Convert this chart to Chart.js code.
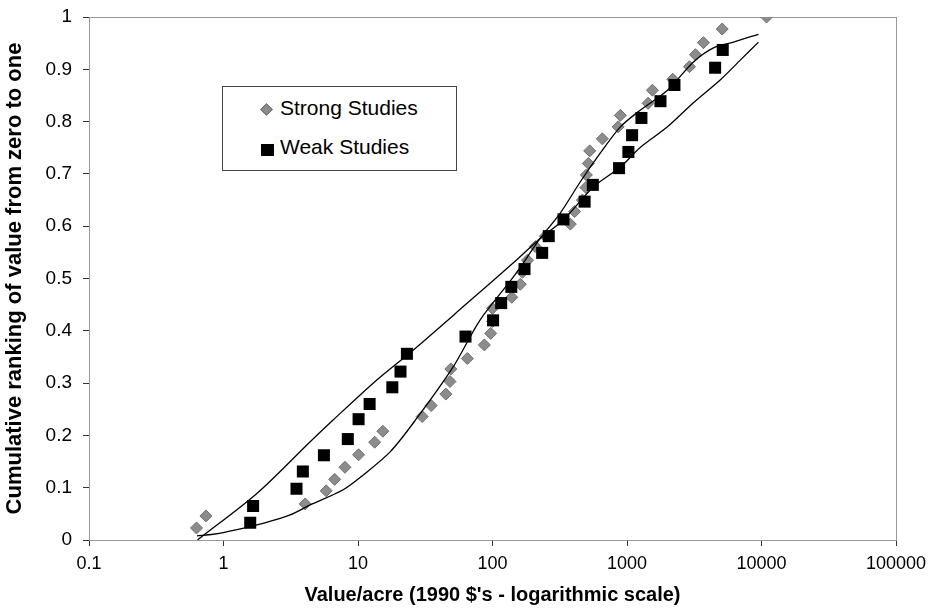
<!DOCTYPE html>
<html>
<head>
<meta charset="utf-8">
<script src="https://cdn.jsdelivr.net/npm/chart.js@4.4.1/dist/chart.umd.min.js"></script>
<style>
    html, body { margin: 0; padding: 0; background: #fff; }
    #wrap { position: relative; width: 930px; height: 609px; }
    #legend {
        position: absolute; left: 222px; top: 86px; width: 233px; height: 83px;
        border: 1px solid #444; background: #fff;
        font-family: "Liberation Sans", Arial, sans-serif; font-size: 21px; color: #000;
    }
    .row { position: absolute; left: 57px; white-space: nowrap; }
    .diamond { position: absolute; width: 7px; height: 7px; background: #8c8c8c; border: 1px solid #6e6e6e; transform: rotate(45deg); }
    .square { position: absolute; width: 13px; height: 12px; background: #000; }
</style>
</head>
<body>
<div id="wrap">
    <canvas id="chart" width="930" height="609"></canvas>
    <div id="legend">
        <span class="diamond" style="left:39px; top:18px;"></span>
        <span class="row" style="top:9px;">Strong Studies</span>
        <span class="square" style="left:38px; top:57px;"></span>
        <span class="row" style="top:48px;">Weak Studies</span>
    </div>
</div>
<script>
// Strong studies (grey diamonds)
const strongX = [0.63, 0.74, 4.05, 5.8, 6.7, 8.0, 10.1, 13.3, 15.3, 30, 35, 45, 48.3, 49, 65, 87, 97, 100, 100,
    139, 161, 167, 182, 208, 247, 379, 408, 466, 495, 499, 516, 528, 656, 859, 893, 1435, 1545, 2188, 2913,
    3228, 3700, 5100, 10900];
const strongY = [0.023, 0.046, 0.069, 0.094, 0.116, 0.139, 0.163, 0.187, 0.208, 0.236, 0.257, 0.279, 0.303,
    0.327, 0.347, 0.373, 0.395, 0.418, 0.443, 0.464, 0.489, 0.512, 0.535, 0.561, 0.581, 0.604, 0.628, 0.65,
    0.674, 0.698, 0.72, 0.744, 0.767, 0.79, 0.812, 0.835, 0.86, 0.881, 0.905, 0.928, 0.951, 0.977, 1.0];

// Weak studies (black squares)
const weakX = [1.58, 1.66, 3.49, 3.89, 5.58, 8.4, 10.1, 12.2, 18, 20.7, 23.1, 63, 101, 116, 138, 173, 234,
    262, 337, 484, 557, 873, 1024, 1091, 1280, 1774, 2253, 4520, 5150];
const weakY = [0.033, 0.065, 0.098, 0.131, 0.162, 0.193, 0.231, 0.26, 0.292, 0.322, 0.356, 0.389, 0.42, 0.453,
    0.484, 0.518, 0.549, 0.581, 0.613, 0.647, 0.679, 0.711, 0.742, 0.774, 0.807, 0.839, 0.87, 0.903, 0.937];

// Fitted curves (thin black lines)
const curveAX = [0.64, 1.77, 4.41, 6.5, 13.8, 25.7, 65, 143, 227, 336, 562, 893, 1259, 2000, 3119, 4955, 6980, 9500];
const curveAY = [0, 0.089, 0.188, 0.229, 0.306, 0.363, 0.453, 0.53, 0.577, 0.612, 0.675, 0.713, 0.751, 0.79,
    0.836, 0.88, 0.918, 0.952];
const curveBX = [0.635, 0.84, 1.26, 1.97, 3.13, 4.41, 7.76, 10.9, 17.4, 26.7, 51, 81, 143, 227, 319, 450, 634,
    893, 1259, 2000, 3119, 4395, 6194, 9500];
const curveBY = [0.008, 0.011, 0.02, 0.032, 0.048, 0.067, 0.096, 0.124, 0.169, 0.229, 0.331, 0.421, 0.503,
    0.577, 0.625, 0.685, 0.74, 0.79, 0.822, 0.86, 0.914, 0.941, 0.952, 0.967];

// Axis ticks
const xTicks = [0.1, 1, 10, 100, 1000, 10000, 100000];
const xTickLabels = ['0.1', '1', '10', '100', '1000', '10000', '100000'];
const yTickLabels = ['0', '0.1', '0.2', '0.3', '0.4', '0.5', '0.6', '0.7', '0.8', '0.9', '1'];

function toPoints(xs, ys) {
    return xs.map((x, i) => ({ x: x, y: ys[i] }));
}

// Labels may overhang into the page margins, so keep the plot box fixed
function clearPadding(scale) {
    scale.paddingTop = 0;
    scale.paddingBottom = 0;
    scale.paddingLeft = 0;
    scale.paddingRight = 0;
}

// Grey frame around the plot area (top and right edges)
const frame = {
    id: 'frame',
    beforeDatasetsDraw(chart) {
        const a = chart.chartArea;
        const ctx = chart.ctx;
        ctx.save();
        ctx.strokeStyle = '#9a9a9a';
        ctx.lineWidth = 1;
        ctx.strokeRect(a.left + 0.5, a.top + 0.5, a.right - a.left, a.bottom - a.top);
        ctx.restore();
    }
};

const font = 'Liberation Sans, Arial, sans-serif';
const ctx = document.getElementById('chart').getContext('2d');

new Chart(ctx, {
    type: 'scatter',
    data: {
        datasets: [
            {
                label: 'Curve A',
                data: toPoints(curveAX, curveAY),
                showLine: true,
                borderColor: '#000',
                borderWidth: 1.3,
                pointRadius: 0,
                tension: 0.3,
                order: 0
            },
            {
                label: 'Curve B',
                data: toPoints(curveBX, curveBY),
                showLine: true,
                borderColor: '#000',
                borderWidth: 1.3,
                pointRadius: 0,
                tension: 0.3,
                order: 0
            },
            {
                label: 'Weak Studies',
                data: toPoints(weakX, weakY),
                pointStyle: 'rect',
                pointRadius: 8.5,
                backgroundColor: '#000',
                borderColor: '#000',
                borderWidth: 0,
                order: 1
            },
            {
                label: 'Strong Studies',
                data: toPoints(strongX, strongY),
                pointStyle: 'rectRot',
                pointRadius: 6,
                backgroundColor: '#8c8c8c',
                borderColor: '#6e6e6e',
                borderWidth: 1,
                order: 2
            }
        ]
    },
    options: {
        responsive: false,
        animation: false,
        layout: { padding: { left: 0, top: 17, right: 34, bottom: 0 } },
        plugins: {
            legend: { display: false },
            tooltip: { enabled: false }
        },
        scales: {
            x: {
                type: 'logarithmic',
                min: 0.1,
                max: 100000,
                afterBuildTicks: function (scale) {
                    scale.ticks = xTicks.map(v => ({ value: v }));
                },
                afterFit: function (scale) {
                    scale.height = 69;
                    clearPadding(scale);
                },
                ticks: {
                    autoSkip: false,
                    maxRotation: 0,
                    padding: 7,
                    color: '#000',
                    font: { family: font, size: 18 },
                    callback: function (value) {
                        const i = xTicks.indexOf(value);
                        return i >= 0 ? xTickLabels[i] : '';
                    }
                },
                grid: { drawOnChartArea: false, drawTicks: true, tickLength: 6, color: '#333' },
                border: { display: true, color: '#333', width: 1 },
                title: {
                    display: true,
                    text: "Value/acre (1990 $'s - logarithmic scale)",
                    color: '#000',
                    padding: { top: 0, bottom: 2 },
                    font: { family: font, size: 20, weight: 'bold' }
                }
            },
            y: {
                min: 0,
                max: 1,
                afterFit: function (scale) {
                    scale.width = 89;
                    clearPadding(scale);
                },
                ticks: {
                    stepSize: 0.1,
                    padding: 11,
                    color: '#000',
                    font: { family: font, size: 19 },
                    callback: function (value) {
                        return yTickLabels[Math.round(value * 10)];
                    }
                },
                grid: { drawOnChartArea: false, drawTicks: true, tickLength: 6, color: '#333' },
                border: { display: true, color: '#333', width: 1 },
                title: {
                    display: true,
                    text: 'Cumulative ranking of value from zero to one',
                    color: '#000',
                    padding: { top: 2, bottom: 0 },
                    font: { family: font, size: 22, weight: 'bold' }
                }
            }
        }
    },
    plugins: [frame]
});
</script>
</body>
</html>
